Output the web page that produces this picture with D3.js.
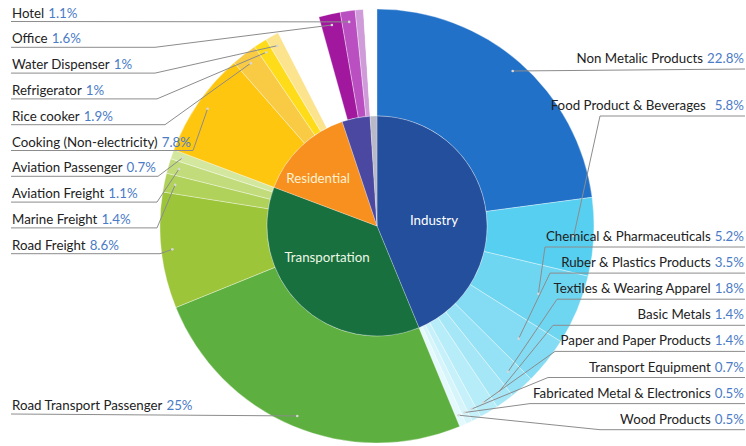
<!DOCTYPE html>
<html>
<head>
<meta charset="utf-8">
<script src="https://cdn.jsdelivr.net/npm/d3@7"></script>
<style>
  html, body { margin: 0; padding: 0; background: #fff; }
  svg text { font-family: Lato, "Open Sans", sans-serif; }
</style>
</head>
<body>
<svg id="chart" width="746" height="446"></svg>
<script>
// Energy consumption share by sector (inner ring) and sub-sector (outer ring), in %
const sectors = ["Industry", "Transportation", "Residential", "Commercial", "Other"];

const industryItems = ["Non Metalic Products", "Food Product & Beverages", "Chemical & Pharmaceuticals",
  "Ruber & Plastics Products", "Textiles & Wearing Apparel", "Basic Metals", "Paper and Paper Products",
  "Transport Equipment", "Fabricated Metal & Electronics", "Wood Products"];
const industryValues = [22.8, 5.8, 5.2, 3.5, 1.8, 1.4, 1.4, 0.7, 0.5, 0.5];

const transportItems = ["Road Transport Passenger", "Road Freight", "Marine Freight", "Aviation Freight", "Aviation Passenger"];
const transportValues = [25, 8.6, 1.4, 1.1, 0.7];

const residentialItems = ["Cooking (Non-electricity)", "Rice cooker", "Refrigerator", "Water Dispenser", "Other residential"];
const residentialValues = [7.8, 1.9, 1, 1, 2.4];

const commercialItems = ["Other commercial", "Office", "Hotel", "Other services"];
const commercialValues = [0.8, 1.6, 1.1, 0.6];

const otherItems = ["Other"];
const otherValues = [1.0];

// Labelled items, top to bottom on each side
const leftLabels = ["Hotel", "Office", "Water Dispenser", "Refrigerator", "Rice cooker",
  "Cooking (Non-electricity)", "Aviation Passenger", "Aviation Freight", "Marine Freight", "Road Freight"];
const bottomLabels = ["Road Transport Passenger"];
const rightLabels = ["Non Metalic Products", "Food Product & Beverages", "Chemical & Pharmaceuticals",
  "Ruber & Plastics Products", "Textiles & Wearing Apparel", "Basic Metals", "Paper and Paper Products",
  "Transport Equipment", "Fabricated Metal & Electronics", "Wood Products"];

// ---- styles ----
const sectorColors = ["#244f9d", "#17703d", "#f7901e", "#4b48a1", "#b9b9c8"];
const itemColors = {
  "Industry": ["#2271c9", "#56cff0", "#6fd6f2", "#83dcf4", "#95e1f6", "#a6e7f7", "#b7ecf9", "#c7f1fa", "#d5f5fb", "#e3f9fd"],
  "Transportation": ["#5daf3f", "#9cc53a", "#b0d15a", "#c2dc7c", "#d4e79e"],
  "Residential": ["#ffc60f", "#f9ca44", "#ffdc1a", "#fce48e", "#ffffff"],
  "Commercial": ["#ffffff", "#a1189f", "#b94fc0", "#cf9bd9"],
  "Other": ["#ffffff"]
};
const sectorLabelColors = { "Industry": "#ffffff", "Transportation": "#eef7e6", "Residential": "#fff0d2" };
const textColor = "#222", pctColor = "#4a7bc6", lineColor = "#8c8c8c";

// ---- geometry ----
const cx = 377, cy = 226, R = 217, r0 = 110, leaderR = 206;

const groups = [
  [industryItems, industryValues], [transportItems, transportValues],
  [residentialItems, residentialValues], [commercialItems, commercialValues], [otherItems, otherValues]
];
const items = [];
groups.forEach(([names, vals], gi) => {
  names.forEach((n, i) => items.push({ sector: sectors[gi], name: n, value: vals[i], color: itemColors[sectors[gi]][i] }));
});
const sectorData = sectors.map((s, i) => ({ name: s, value: d3.sum(groups[i][1]), color: sectorColors[i] }));

const pie = d3.pie().sort(null).value(d => d.value);
const outerArcs = pie(items);
const innerArcs = pie(sectorData);

const svg = d3.select("#chart");
const g = svg.append("g").attr("transform", `translate(${cx},${cy})`);

const outerArc = d3.arc().innerRadius(r0).outerRadius(R);
const innerArc = d3.arc().innerRadius(0).outerRadius(r0);

g.selectAll("path.outer").data(outerArcs).join("path")
  .attr("class", "outer")
  .attr("d", outerArc)
  .attr("fill", d => d.data.color)
  .attr("stroke", d => d.data.color === "#ffffff" ? "none" : "#ffffff")
  .attr("stroke-width", 0.5)
  .attr("stroke-opacity", 0.7);

g.selectAll("path.inner").data(innerArcs).join("path")
  .attr("class", "inner")
  .attr("d", innerArc)
  .attr("fill", d => d.data.color)
  .attr("stroke", "#ffffff")
  .attr("stroke-width", 0.5)
  .attr("stroke-opacity", 0.5);

// sector names inside the inner pie: [radius fraction, angular shift in degrees]
const sectorLabelPos = { "Industry": [0.52, 6], "Transportation": [0.535, 14], "Residential": [0.69, -7] };
innerArcs.filter(d => sectorLabelPos[d.data.name]).forEach(d => {
  const [f, dAng] = sectorLabelPos[d.data.name];
  const a = (d.startAngle + d.endAngle) / 2 + dAng * Math.PI / 180;
  const rr = r0 * f;
  g.append("text")
    .attr("x", rr * Math.sin(a)).attr("y", -rr * Math.cos(a))
    .attr("text-anchor", "middle").attr("dy", "0.35em")
    .attr("font-size", 13.3).attr("fill", sectorLabelColors[d.data.name])
    .text(d.data.name);
});

// point inside a slice where its leader line ends
const arcByName = new Map(outerArcs.map(d => [d.data.name, d]));
const leaderRadius = { "Food Product & Beverages": 197, "Chemical & Pharmaceuticals": 175,
  "Ruber & Plastics Products": 181, "Textiles & Wearing Apparel": 196 };
function anchor(name) {
  const d = arcByName.get(name);
  const a = (d.startAngle + d.endAngle) / 2;
  const rr = leaderRadius[name] || leaderR;
  return [cx + rr * Math.sin(a), cy - rr * Math.cos(a)];
}
const pctText = v => `${v}%`;

function drawLabel({ name, side, uy, elbowX, gap }) {
  const d = arcByName.get(name);
  const [ex, ey] = anchor(name);
  const pts = side === "left"
    ? (elbowX == null ? [[11, uy], [ex, ey]] : [[11, uy], [elbowX, uy], [ex, ey]])
    : (elbowX == null ? [[745, uy], [ex, ey]] : [[745, uy], [elbowX, uy], [ex, ey]]);
  svg.append("path")
    .attr("d", d3.line()(pts))
    .attr("fill", "none").attr("stroke", lineColor).attr("stroke-width", 1);
  svg.append("circle").attr("cx", ex).attr("cy", ey).attr("r", 1.3).attr("fill", "#d8d8d8");

  const t = svg.append("text")
    .attr("font-size", 13.3)
    .attr("x", side === "left" ? 12 : 744)
    .attr("y", uy - (side === "left" ? 4 : 6))
    .attr("text-anchor", side === "left" ? "start" : "end");
  t.append("tspan").attr("fill", textColor).text(name);
  t.append("tspan").attr("fill", pctColor).attr("dx", gap || 4).text(pctText(d.data.value));
}

// left column
const leftElbows = [null, 155, 155, 157, 165, 193, 158, 157, 157, 160];
leftLabels.forEach((name, i) => drawLabel({ name, side: "left", uy: 21.5 + i * 25.8, elbowX: leftElbows[i] }));
bottomLabels.forEach(name => drawLabel({ name, side: "left", uy: 414, elbowX: null }));

// right column
const rightUY = [69, 116].concat(d3.range(8).map(k => 247 + k * 26.1));
const rightElbows = [null, 600, 545, 550, 557, 553, 555, 548, 530, 600];
rightLabels.forEach((name, i) => drawLabel({
  name, side: "right", uy: rightUY[i], elbowX: rightElbows[i],
  gap: name === "Food Product & Beverages" ? 9 : 4
}));
</script>
</body>
</html>
